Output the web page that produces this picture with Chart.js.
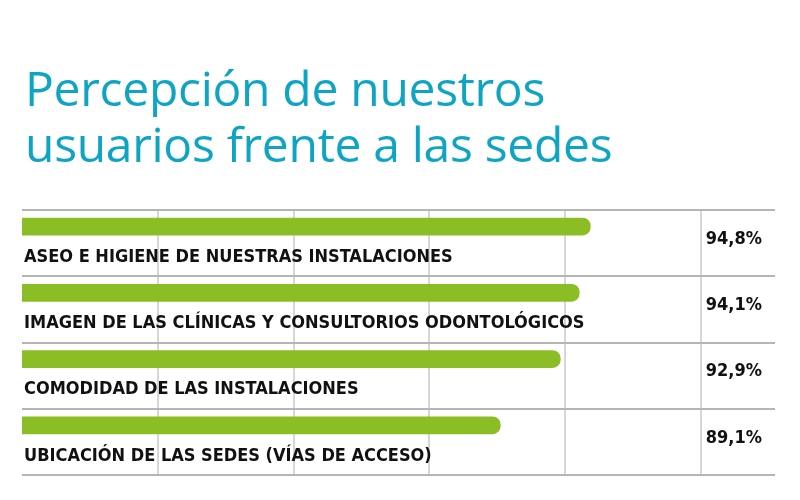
<!DOCTYPE html>
<html>
<head>
<meta charset="utf-8">
<script src="https://cdn.jsdelivr.net/npm/chart.js@4"></script>
<style>
  body { margin: 0; width: 800px; height: 500px; background: #fff; overflow: hidden; }
  h1 { position: absolute; left: 25px; top: 60px; margin: 0; font: 48px/56px "Open Sans", sans-serif; color: #0ea5c4; font-weight: 400; letter-spacing: -0.3px; z-index: 1; }
  #wrap { position: absolute; left: 0; top: 0; width: 800px; height: 500px; }
</style>
</head>
<body>
<h1>Percepción de nuestros<br>usuarios frente a las sedes</h1>
<div id="wrap"><canvas id="chart" width="800" height="500"></canvas></div>
<script>
const categorias = [
  'ASEO E HIGIENE DE NUESTRAS INSTALACIONES',
  'IMAGEN DE LAS CLÍNICAS Y CONSULTORIOS ODONTOLÓGICOS',
  'COMODIDAD DE LAS INSTALACIONES',
  'UBICACIÓN DE LAS SEDES (VÍAS DE ACCESO)'
];
const valores = [94.8, 94.1, 92.9, 89.1];
const etiquetas = ['94,8%', '94,1%', '92,9%', '89,1%'];

const xMin = 58.8, xMax = 106.5, paso = 8.6;

// etiquetas debajo de cada barra y porcentaje a la derecha
const textos = {
  id: 'textos',
  afterDatasetsDraw(chart) {
    const ctx = chart.ctx;
    const y = chart.scales.y;
    ctx.save();
    ctx.fillStyle = '#111';
    ctx.font = 'bold 18px "DejaVu Sans Condensed", "DejaVu Sans", sans-serif';
    categorias.forEach((c, i) => {
      const cy = y.getPixelForValue(i);
      ctx.textAlign = 'left';
      ctx.textBaseline = 'middle';
      ctx.fillText(c, 24, cy + 14);
      ctx.textAlign = 'right';
      ctx.fillText(etiquetas[i], 762, cy - 4);
    });
    ctx.restore();
  }
};

new Chart(document.getElementById('chart'), {
  type: 'bar',
  data: {
    labels: categorias,
    datasets: [
      { data: valores, backgroundColor: '#8bbd25', borderRadius: 8, borderSkipped: false, maxBarThickness: 17 },
      { data: valores.map(() => null) }
    ]
  },
  options: {
    indexAxis: 'y',
    responsive: false,
    animation: false,
    devicePixelRatio: 1,
    layout: { padding: { left: 22, right: 25, top: 210, bottom: 25 } },
    datasets: { bar: { categoryPercentage: 1, barPercentage: 1 } },
    plugins: { legend: { display: false }, tooltip: { enabled: false } },
    scales: {
      x: {
        min: xMin, max: xMax,
        afterBuildTicks(s) {
          const t = [];
          for (let v = xMin + paso; v < xMin + paso * 5; v += paso) t.push({ value: v });
          s.ticks = t;
        },
        ticks: { display: false },
        grid: { color: '#d6d6d6', lineWidth: 2, drawTicks: false },
        border: { display: false }
      },
      y: {
        ticks: { display: false },
        grid: { offset: true, color: '#b5b5b5', lineWidth: 2, drawTicks: false },
        border: { display: false }
      }
    }
  },
  plugins: [textos]
});
</script>
</body>
</html>
